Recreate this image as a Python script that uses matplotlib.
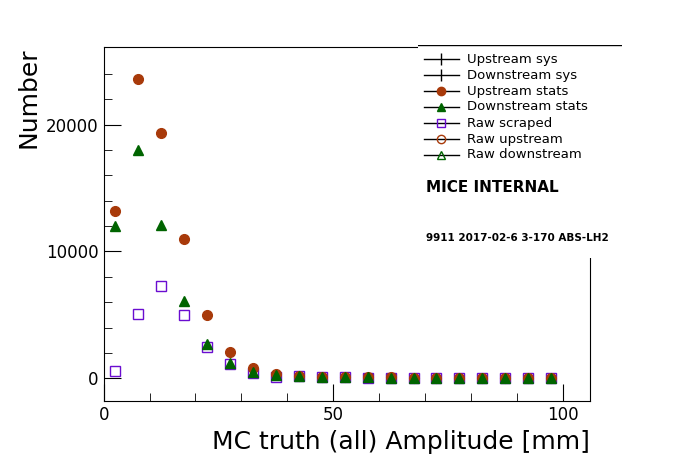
import matplotlib
matplotlib.use("Agg")
import matplotlib.pyplot as plt
import numpy as np
from matplotlib.lines import Line2D

x = [2.5,7.5,12.5,17.5,22.5,27.5,32.5,37.5,42.5,47.5,52.5,57.5,62.5,67.5,72.5,77.5,82.5,87.5,92.5,97.5]
up = [13200,23600,19300,11000,5000,2050,800,350,200,110,90,80,70,60,55,50,45,40,35,30]
down = [12000,18000,12100,6100,2700,1200,500,300,180,100,80,70,60,55,50,45,40,35,30,25]
scraped = [550,5100,7300,5000,2500,1150,400,100,150,80,70,60,55,50,45,40,35,30,28,25]

fig = plt.figure(figsize=(6.96,4.72), dpi=100)
ax = fig.add_axes([0.149,0.150,0.699,0.750])
ax.plot(x, scraped, 's', mfc='none', mec='#6a0dd0', ms=7, mew=1)
ax.plot(x, up, 'o', color='#a83a0a', ms=7)
ax.plot(x, down, '^', color='#006400', ms=7)
ax.set_xlim(0,106)
ax.set_ylim(-1800,26100)
ax.set_xticks([0,50,100])
ax.set_xticks(np.arange(0,106,10), minor=True)
ax.set_yticks([0,10000,20000])
ax.set_yticks(np.arange(0,26000,2000), minor=True)
ax.tick_params(which='both', direction='in', top=False, right=False, labelsize=12)
ax.tick_params(which='major', length=12)
ax.tick_params(which='minor', length=6)
ax.set_xlabel('MC truth (all) Amplitude [mm]', fontsize=18, loc='right')
ax.set_ylabel('Number', fontsize=18, loc='top')

# legend box
lax = fig.add_axes([418/696, 1-258/472, 204/696, 213/472])
lax.set_xlim(0,1); lax.set_ylim(0,1); lax.axis('off')
lax.add_patch(plt.Rectangle((0,0),1,1,color='white',zorder=0))
lax.plot([0,1],[1,1],color='black',lw=1)
labels = ['Upstream sys','Downstream sys','Upstream stats','Downstream stats','Raw scraped','Raw upstream','Raw downstream']
mk = [('|','k','k'),('|','k','k'),('o','#a83a0a','#a83a0a'),('^','#006400','#006400'),('s','none','#6a0dd0'),('o','none','#a83a0a'),('^','none','#006400')]
for i,(lab,(m,fc,ec)) in enumerate(zip(labels,mk)):
    yy = 1 - (14+16*i)/213
    lax.plot([0.03,0.2],[yy,yy],color='k',lw=1)
    lax.plot([0.115],[yy],m,mfc=fc,mec=ec,ms=9 if m=='|' else 6,color=ec)
    lax.text(0.24,yy,lab,va='center',fontsize=9.5)
lax.text(0.04,1-143/213,'MICE INTERNAL',fontsize=11,fontweight='bold',va='center')
lax.text(0.04,1-193/213,'9911 2017-02-6 3-170 ABS-LH2',fontsize=7.5,fontweight='bold',va='center')
fig.savefig('out.png')
